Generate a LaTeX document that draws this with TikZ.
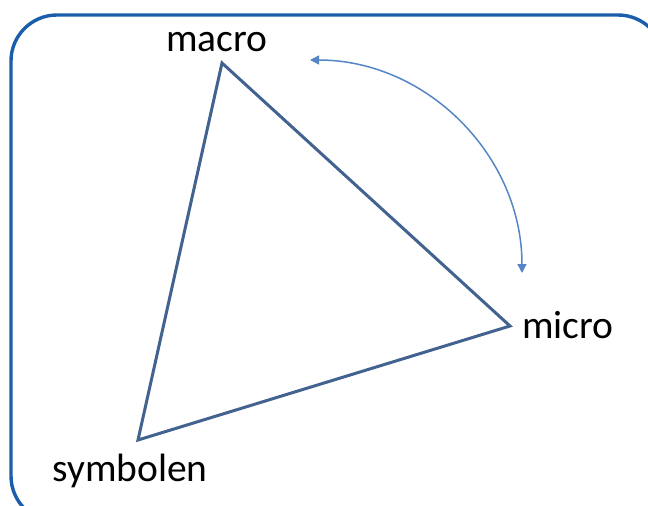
\documentclass[tikz,border=0pt]{standalone}
\usepackage{fontspec}
\setmainfont{Carlito}
\usetikzlibrary{arrows.meta}
\definecolor{frameblue}{HTML}{1A5EAB}
\definecolor{tri}{HTML}{42628F}
\definecolor{arr}{HTML}{5585C4}
\tikzset{
  lbl/.style={inner sep=0pt, font=\fontsize{39.5}{46}\selectfont, text=black},
  edge/.style={draw=tri, line width=3pt, line join=miter},
}
\begin{document}
\begin{tikzpicture}[x=1pt,y=-1pt]
\useasboundingbox (0,0) rectangle (648,506);
\draw[frameblue, line width=3.4pt, rounded corners=46] (11,15) rectangle (664,522);
\coordinate (A) at (222,63);
\coordinate (B) at (510,326);
\coordinate (C) at (138,440);
\draw[edge] (A) -- (B) -- (C) -- cycle;
\node[lbl, anchor=base] (macro) at (217,51) {macro};
\node[lbl, anchor=base west] (micro) at (522,338) {micro};
\node[lbl, anchor=base] (symb) at (130,481) {symbolen};
\coordinate (p) at (310,60);
\coordinate (q) at (522,273);
\draw[arr, line width=1.5pt, {Triangle[length=9pt,width=9pt]}-{Triangle[length=9pt,width=9pt]}]
  (p) .. controls (427,60) and (522,156) .. (q);
\end{tikzpicture}
\end{document}
